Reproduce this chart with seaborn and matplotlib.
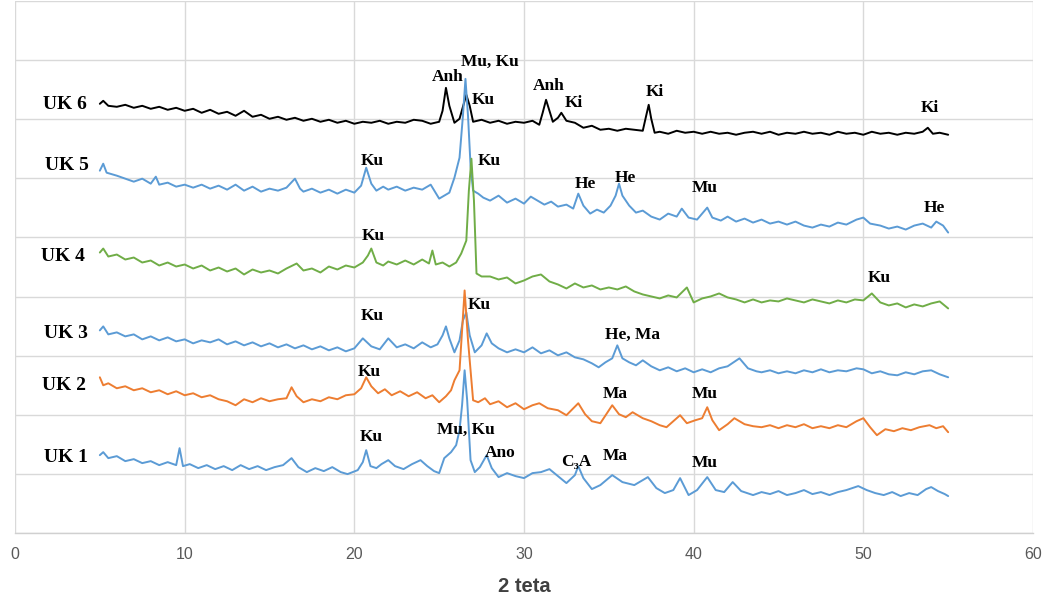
import numpy as np
import pandas as pd
import matplotlib
matplotlib.use("Agg")
import matplotlib.pyplot as plt
import seaborn as sns

# ---------------- data (2 theta, offset intensity, arbitrary units) ----------------
uk6_x = [5.0, 5.2, 5.5, 6, 6.5, 7, 7.5, 8, 8.5, 9,
         9.5, 10, 10.5, 11, 11.5, 12, 12.5, 13, 13.5, 14,
         14.5, 15, 15.5, 16, 16.5, 17, 17.5, 18, 18.5, 19,
         19.5, 20, 20.5, 21, 21.5, 22, 22.5, 23, 23.5, 24,
         24.5, 25, 25.2, 25.4, 25.6, 25.9, 26.2, 26.6, 26.8, 27.0,
         27.5, 28, 28.5, 29, 29.5, 30, 30.5, 30.9, 31.1, 31.3,
         31.5, 31.7, 32.0, 32.2, 32.5, 33, 33.5, 34, 34.5, 35,
         35.5, 36, 36.5, 37, 37.2, 37.35, 37.5, 37.7, 38, 38.5,
         39, 39.5, 40, 40.5, 41, 41.5, 42, 42.5, 43, 43.5,
         44, 44.5, 45, 45.5, 46, 46.5, 47, 47.5, 48, 48.5,
         49, 49.5, 50, 50.5, 51, 51.5, 52, 52.5, 53, 53.5,
         53.8, 54.1, 54.5, 55]
uk6_y = [430, 433, 428, 427, 429, 426, 428, 425, 427, 424,
         426, 423, 425, 421, 424, 420, 422, 418, 423, 417,
         419, 415, 417, 414, 416, 413, 415, 412, 414, 411,
         413, 410, 412, 411, 413, 410, 412, 411, 414, 413,
         410, 412, 423, 446, 428, 411, 415, 439, 428, 412,
         414, 411, 413, 410, 412, 411, 413, 409, 421, 434,
         423, 412, 416, 421, 413, 411, 406, 408, 404, 405,
         403, 405, 404, 403, 418, 429, 415, 401, 402, 400,
         403, 401, 402, 400, 402, 400, 401, 399, 401, 402,
         400, 402, 399, 401, 400, 402, 400, 401, 399, 402,
         400, 401, 399, 402, 400, 401, 399, 401, 400, 402,
         406, 400, 401, 399]

uk5_x = [5, 5.2, 5.4, 6, 6.5, 7, 7.5, 8, 8.3, 8.5,
         9, 9.5, 10, 10.5, 11, 11.5, 12, 12.5, 13, 13.5,
         14, 14.5, 15, 15.5, 16, 16.5, 16.8, 17, 17.5, 18,
         18.5, 19, 19.5, 20, 20.4, 20.7, 21.0, 21.3, 21.7, 22,
         22.5, 23, 23.5, 24, 24.5, 25, 25.6, 25.9, 26.2, 26.4,
         26.55, 26.7, 26.85, 27.0, 27.3, 27.6, 28, 28.5, 29, 29.5,
         30, 30.4, 30.8, 31.2, 31.6, 32, 32.5, 32.9, 33.2, 33.5,
         33.9, 34.3, 34.7, 35.1, 35.4, 35.6, 35.8, 36.2, 36.6, 37,
         37.5, 38, 38.5, 39, 39.3, 39.7, 40.2, 40.5, 40.8, 41.1,
         41.6, 42, 42.5, 43, 43.5, 44, 44.5, 45, 45.5, 46,
         46.5, 47, 47.5, 48, 48.5, 49, 49.6, 50, 50.4, 51,
         51.5, 52, 52.5, 53, 53.5, 54, 54.3, 54.7, 55]
uk5_y = [363, 370, 361, 358, 355, 352, 355, 350, 357, 349,
         351, 347, 349, 346, 349, 345, 348, 344, 349, 343,
         347, 342, 345, 343, 346, 355, 345, 342, 345, 341,
         344, 340, 344, 341, 348, 366, 350, 343, 347, 344,
         347, 343, 346, 344, 349, 335, 341, 356, 376, 418,
         455, 418, 368, 343, 340, 336, 333, 338, 331, 335,
         330, 337, 333, 329, 332, 327, 329, 325, 340, 328,
         320, 324, 321, 328, 338, 350, 338, 328, 321, 323,
         317, 314, 320, 317, 325, 316, 314, 320, 326, 316,
         313, 317, 312, 315, 311, 314, 310, 312, 309, 312,
         308, 306, 309, 307, 311, 309, 314, 316, 310, 308,
         305, 307, 304, 308, 310, 306, 312, 308, 301]

uk4_x = [5, 5.2, 5.5, 6, 6.5, 7, 7.5, 8, 8.5, 9,
         9.5, 10, 10.5, 11, 11.5, 12, 12.5, 13, 13.5, 14,
         14.5, 15, 15.5, 16, 16.6, 17, 17.5, 18, 18.5, 19,
         19.5, 20, 20.5, 20.8, 21.0, 21.3, 21.7, 22, 22.5, 23,
         23.5, 24, 24.4, 24.6, 24.8, 25.2, 25.6, 26.0, 26.3, 26.6,
         26.75, 26.9, 27.05, 27.2, 27.5, 28, 28.5, 29, 29.5, 30,
         30.5, 31, 31.5, 32, 32.5, 33, 33.5, 34, 34.5, 35,
         35.5, 36, 36.5, 37, 37.5, 38, 38.5, 39, 39.6, 40,
         40.5, 41, 41.5, 42, 42.5, 43, 43.5, 44, 44.5, 45,
         45.5, 46, 46.5, 47, 47.5, 48, 48.5, 49, 49.5, 50,
         50.5, 51, 51.5, 52, 52.5, 53, 53.5, 54, 54.5, 55]
uk4_y = [281, 285, 277, 279, 274, 276, 271, 273, 268, 271,
         267, 269, 265, 268, 263, 266, 262, 265, 259, 264,
         261, 263, 260, 265, 270, 263, 265, 261, 267, 264,
         268, 266, 271, 278, 285, 271, 268, 272, 269, 273,
         269, 274, 270, 283, 269, 271, 267, 271, 280, 293,
         343, 375, 333, 260, 257, 257, 254, 256, 250, 253,
         257, 259, 252, 249, 245, 250, 246, 248, 244, 246,
         244, 247, 242, 239, 237, 235, 238, 236, 246, 231,
         235, 237, 240, 236, 234, 231, 234, 231, 233, 232,
         235, 233, 231, 234, 232, 230, 233, 231, 234, 233,
         240, 231, 228, 230, 226, 229, 227, 230, 232, 225]

uk3_x = [5, 5.2, 5.5, 6, 6.5, 7, 7.5, 8, 8.5, 9,
         9.5, 10, 10.5, 11, 11.5, 12, 12.5, 13, 13.5, 14,
         14.5, 15, 15.5, 16, 16.5, 17, 17.5, 18, 18.5, 19,
         19.5, 20, 20.5, 21, 21.5, 22, 22.5, 23, 23.5, 24,
         24.5, 24.9, 25.2, 25.4, 25.6, 25.9, 26.2, 26.4, 26.6, 26.8,
         27.1, 27.5, 27.8, 28.1, 28.5, 29, 29.5, 30, 30.5, 31,
         31.5, 32, 32.5, 33, 33.5, 34, 34.4, 34.8, 35.2, 35.5,
         35.8, 36.2, 36.6, 37, 37.5, 38, 38.5, 39, 39.5, 40,
         40.5, 41, 41.5, 42, 42.7, 43.2, 43.7, 44, 44.5, 45,
         45.5, 46, 46.5, 47, 47.5, 48, 48.5, 49, 49.6, 50,
         50.5, 51, 51.5, 52, 52.5, 53, 53.5, 54, 54.5, 55]
uk3_y = [203, 207, 199, 201, 197, 199, 194, 197, 193, 196,
         192, 194, 190, 193, 191, 194, 189, 192, 188, 191,
         187, 190, 186, 189, 185, 188, 184, 187, 183, 186,
         182, 185, 195, 187, 184, 195, 186, 189, 185, 191,
         186, 189, 198, 207, 195, 181, 193, 213, 221, 198,
         181, 188, 200, 190, 185, 181, 184, 181, 186, 180,
         183, 178, 181, 176, 174, 170, 166, 171, 175, 188,
         175, 171, 168, 173, 167, 163, 166, 162, 165, 161,
         164, 161, 165, 167, 175, 165, 162, 161, 163, 160,
         162, 160, 163, 161, 164, 161, 163, 162, 165, 164,
         160, 162, 159, 158, 161, 159, 162, 163, 159, 156]

uk2_x = [5, 5.2, 5.5, 6, 6.5, 7, 7.5, 8, 8.5, 9,
         9.5, 10, 10.5, 11, 11.5, 12, 12.5, 13, 13.5, 14,
         14.5, 15, 15.5, 16, 16.3, 16.6, 17, 17.5, 18, 18.5,
         19, 19.5, 20, 20.4, 20.7, 21.0, 21.4, 21.8, 22.2, 22.7,
         23.2, 23.7, 24.2, 24.6, 25.0, 25.4, 25.7, 25.9, 26.2, 26.35,
         26.5, 26.7, 27.0, 27.3, 27.7, 28, 28.5, 29, 29.5, 30,
         30.5, 30.9, 31.4, 32, 32.5, 33.2, 33.6, 34, 34.5, 35.2,
         35.6, 36, 36.4, 37, 37.5, 38, 38.4, 39.2, 39.6, 40.1,
         40.5, 40.8, 41.1, 41.5, 42, 42.4, 43, 43.5, 44, 44.5,
         45, 45.5, 46, 46.5, 47, 47.5, 48, 48.5, 49, 49.6,
         50.0, 50.4, 50.8, 51.3, 51.8, 52.3, 52.8, 53.3, 53.9, 54.3,
         54.7, 55]
uk2_y = [156, 148, 150, 145, 147, 143, 145, 141, 143, 139,
         142, 138, 140, 136, 138, 134, 132, 128, 134, 131,
         135, 132, 134, 135, 146, 137, 131, 134, 132, 136,
         134, 138, 139, 145, 156, 147, 140, 144, 138, 142,
         137, 141, 135, 138, 131, 137, 143, 153, 163, 203,
         243, 193, 133, 131, 135, 129, 132, 126, 130, 124,
         128, 130, 125, 123, 118, 130, 119, 112, 110, 128,
         119, 116, 121, 115, 112, 108, 106, 118, 110, 113,
         115, 126, 113, 103, 109, 115, 109, 107, 106, 108,
         105, 108, 106, 109, 105, 107, 105, 108, 106, 112,
         115, 106, 98, 104, 102, 105, 103, 106, 108, 105,
         107, 101]

uk1_x = [5, 5.2, 5.5, 6, 6.5, 7, 7.5, 8, 8.5, 9,
         9.5, 9.7, 9.9, 10.3, 10.8, 11.3, 11.8, 12.3, 12.8, 13.3,
         13.8, 14.3, 14.8, 15.3, 15.8, 16.3, 16.7, 17.2, 17.7, 18.2,
         18.7, 19.2, 19.6, 20.2, 20.5, 20.7, 20.95, 21.3, 21.6, 22.0,
         22.4, 22.9, 23.4, 23.9, 24.3, 24.7, 25.0, 25.3, 25.7, 26.0,
         26.2, 26.35, 26.5, 26.65, 26.85, 27.1, 27.4, 27.8, 28.1, 28.5,
         29, 29.5, 30, 30.5, 31, 31.5, 32, 32.5, 33.0, 33.2,
         33.5, 34, 34.5, 35.2, 35.8, 36.5, 37.3, 37.8, 38.3, 38.8,
         39.2, 39.7, 40.2, 40.8, 41.3, 41.8, 42.3, 42.8, 43.5, 44,
         44.5, 45, 45.5, 46, 46.5, 47, 47.5, 48, 48.5, 49,
         49.7, 50.2, 50.7, 51.2, 51.7, 52.2, 52.7, 53.2, 53.7, 54.0,
         54.4, 54.8, 55]
uk1_y = [78, 81, 75, 77, 72, 74, 70, 72, 68, 71,
         68, 85, 67, 69, 65, 68, 64, 67, 63, 68,
         64, 67, 63, 66, 68, 75, 66, 61, 65, 62,
         66, 61, 59, 63, 71, 83, 67, 65, 69, 73,
         67, 64, 69, 73, 67, 62, 60, 75, 81, 88,
         103, 128, 163, 133, 73, 61, 66, 78, 65, 56,
         60, 57, 55, 60, 61, 64, 57, 50, 58, 67,
         55, 44, 48, 58, 51, 48, 56, 45, 40, 43,
         55, 38, 43, 56, 43, 41, 51, 42, 38, 41,
         39, 42, 38, 40, 43, 39, 41, 38, 41, 43,
         47, 43, 40, 38, 41, 37, 40, 38, 44, 46,
         42, 39, 37]

samples = ["UK 6", "UK 5", "UK 4", "UK 3", "UK 2", "UK 1"]
x_ticks = [0, 10, 20, 30, 40, 50, 60]

# sample-name labels
name_text = ["UK 6", "UK 5", "UK 4", "UK 3", "UK 2", "UK 1"]
name_x = [2.95, 3.05, 2.85, 3.0, 2.9, 3.0]
name_y = [429, 368, 277, 200, 148, 76]

# phase labels
peak_text = ["Mu, Ku", "Anh", "Ku", "Anh", "Ki", "Ki", "Ki",
             "Ku", "Ku", "He", "He", "Mu", "He",
             "Ku", "Ku",
             "Ku", "Ku", "He, Ma",
             "Ku", "Ma", "Mu",
             "Ku", "Mu, Ku", "Ano", "C\u2083A", "Ma", "Mu"]
peak_x = [28.0, 25.5, 27.6, 31.45, 32.95, 37.7, 53.9,
          21.05, 27.95, 33.6, 35.95, 40.65, 54.2,
          21.1, 50.95,
          21.05, 27.35, 36.4,
          20.9, 35.35, 40.65,
          21.0, 26.6, 28.6, 33.1, 35.35, 40.65]
peak_y = [472, 457, 434, 448, 431, 442, 426,
          373, 373, 350, 356, 346, 326,
          298, 255,
          217, 228, 198,
          161, 139, 139,
          96, 103, 80, 71, 77, 70]

# ---------------- build frame ----------------
frames = []
for name, xs, ys in zip(samples,
                        [uk6_x, uk5_x, uk4_x, uk3_x, uk2_x, uk1_x],
                        [uk6_y, uk5_y, uk4_y, uk3_y, uk2_y, uk1_y]):
    frames.append(pd.DataFrame({"two_theta": xs, "intensity": ys, "sample": name}))
df = pd.concat(frames, ignore_index=True)

sns.set_theme(style="white")
plt.rcParams["font.family"] = ["Liberation Sans", "DejaVu Sans"]

fig = plt.figure(figsize=(10.44, 6.04), dpi=100)
ax = fig.add_axes([15 / 1044, 71 / 604, 1018 / 1044, 532 / 604])

palette = {"UK 6": "#000000", "UK 5": "#5B9BD5", "UK 4": "#70AD47",
           "UK 3": "#5B9BD5", "UK 2": "#ED7D31", "UK 1": "#5B9BD5"}
sns.lineplot(data=df, x="two_theta", y="intensity", hue="sample",
             hue_order=samples, palette=palette, estimator=None, sort=False,
             linewidth=1.4, legend=False, ax=ax)

ax.set_xlim(0, 60)
ax.set_ylim(0, 533)
ax.set_xticks(x_ticks)
ax.set_xticklabels([str(t) for t in x_ticks], fontsize=11.5, color="#595959")
ax.set_yticks(np.linspace(0, 533, 10))
ax.set_yticklabels([])
ax.tick_params(axis="both", length=0)
ax.tick_params(axis="x", pad=10)
ax.grid(True, color="#D9D9D9", linewidth=1.0)
ax.set_axisbelow(True)
for s in ["top", "right", "left"]:
    ax.spines[s].set_visible(False)
ax.spines["bottom"].set_color("#D0D0D0")
ax.spines["bottom"].set_linewidth(1.0)

ax.set_xlabel("2 teta", fontsize=14.5, fontweight="bold", color="#404040", labelpad=11)
ax.set_ylabel("")

serif = ["Liberation Serif", "DejaVu Serif"]
for t, x, y in zip(name_text, name_x, name_y):
    ax.text(x, y, t, ha="center", va="center", fontsize=14, fontweight="bold",
            family=serif, color="black")
for t, x, y in zip(peak_text, peak_x, peak_y):
    ax.text(x, y, t, ha="center", va="center", fontsize=12.5, fontweight="bold",
            family=serif, color="black")

fig.savefig("out.png", dpi=100)
